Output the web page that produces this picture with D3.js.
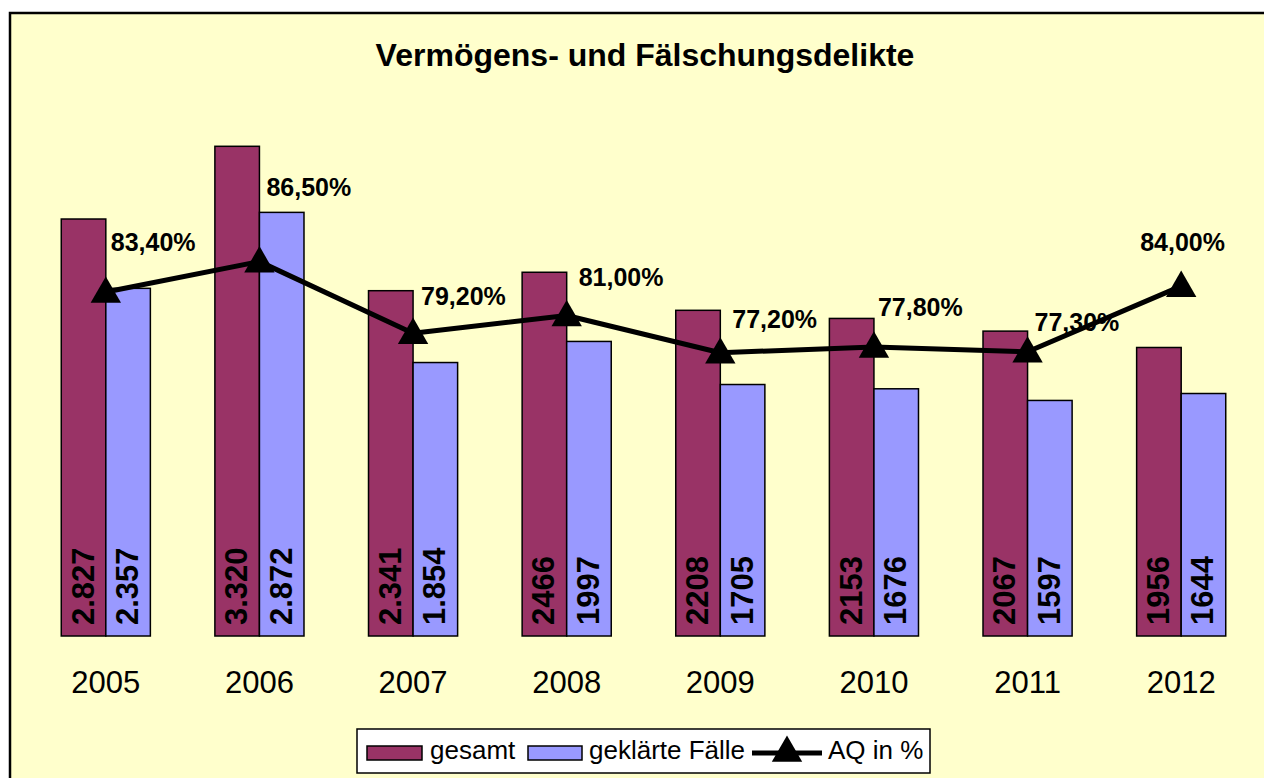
<!DOCTYPE html>
<html>
<head>
<meta charset="utf-8">
<script src="https://cdn.jsdelivr.net/npm/d3@7"></script>
<style>
  html, body { margin: 0; padding: 0; background: #ffffff; }
  svg { display: block; font-family: "Liberation Sans", Arial, sans-serif; }
</style>
</head>
<body>
<svg id="chart" width="1264" height="778"></svg>
<script>
const title = "Vermögens- und Fälschungsdelikte";
const years = ["2005", "2006", "2007", "2008", "2009", "2010", "2011", "2012"];
const gesamt = [2827, 3320, 2341, 2466, 2208, 2153, 2067, 1956];
const geklaert = [2357, 2872, 1854, 1997, 1705, 1676, 1597, 1644];
const gesamtLabels = ["2.827", "3.320", "2.341", "2466", "2208", "2153", "2067", "1956"];
const geklaertLabels = ["2.357", "2.872", "1.854", "1997", "1705", "1676", "1597", "1644"];
const aq = [83.4, 86.5, 79.2, 81.0, 77.2, 77.8, 77.3, 84.0];
const aqLabels = ["83,40%", "86,50%", "79,20%", "81,00%", "77,20%", "77,80%", "77,30%", "84,00%"];
const seriesNames = ["gesamt", "geklärte Fälle", "AQ in %"];

// label placement (manually moved labels in the original)
const aqLabelDx = [5, 7, 8, 12, 12, 4, 7, -41];
const aqLabelDy = [-41, -66, -28, -30, -25, -31, -21, -35];

const colors = { gesamt: "#993366", geklaert: "#9999FF", bg: "#FFFFCC" };
const FONT = '"Liberation Sans", Arial, sans-serif';

const svg = d3.select("#chart");

// chart frame
svg.append("rect")
  .attr("x", 10).attr("y", 13)
  .attr("width", 1280).attr("height", 800)
  .attr("fill", colors.bg)
  .attr("stroke", "#000").attr("stroke-width", 2.5);

// title
svg.append("text")
  .attr("x", 645).attr("y", 66)
  .attr("text-anchor", "middle")
  .attr("font-size", 32).attr("font-weight", "bold")
  .attr("fill", "#000")
  .text(title);

// scales
const x = d3.scaleBand().domain(years).range([29, 1258]).paddingInner(0.42).paddingOuter(0.21);
const xs = d3.scaleBand().domain(["gesamt", "geklaert"]).range([0, x.bandwidth()]);
const y = d3.scaleLinear().domain([0, 4000]).range([636, 46]);
const y2 = d3.scaleLinear().domain([48.3, 108.5]).range([636, 46]);

const rows = years.map((yr, i) => ({
  year: yr, i,
  vals: [
    { key: "gesamt", v: gesamt[i], label: gesamtLabels[i] },
    { key: "geklaert", v: geklaert[i], label: geklaertLabels[i] }
  ]
}));

const groups = svg.append("g").selectAll("g")
  .data(rows).join("g")
  .attr("transform", d => `translate(${x(d.year)},0)`);

groups.selectAll("rect")
  .data(d => d.vals).join("rect")
  .attr("x", d => xs(d.key))
  .attr("y", d => y(d.v))
  .attr("width", xs.bandwidth())
  .attr("height", d => y(0) - y(d.v))
  .attr("fill", d => colors[d.key])
  .attr("stroke", "#000").attr("stroke-width", 1.5);

groups.selectAll("text.val")
  .data(d => d.vals).join("text")
  .attr("class", "val")
  .attr("transform", d => `translate(${xs(d.key) + xs.bandwidth() / 2 + 10},${y(0) - 11}) rotate(-90)`)
  .attr("font-size", 31).attr("font-weight", "bold")
  .attr("fill", "#000")
  .text(d => d.label);

// x axis labels
const xAxis = d3.axisBottom(x).tickSize(0).tickPadding(0);
const gx = svg.append("g").attr("transform", `translate(0,${y(0)})`).call(xAxis);
gx.select(".domain").remove();
gx.selectAll("text")
  .attr("font-family", FONT)
  .attr("font-size", 31)
  .attr("fill", "#000")
  .attr("dy", null)
  .attr("y", 57);

// AQ labels
const cx = d => x(d) + x.bandwidth() / 2;
svg.append("g").selectAll("text")
  .data(years).join("text")
  .attr("x", (d, i) => cx(d) + aqLabelDx[i])
  .attr("y", (d, i) => y2(aq[i]) + aqLabelDy[i])
  .attr("font-size", 25).attr("font-weight", "bold")
  .attr("fill", "#000")
  .text((d, i) => aqLabels[i]);

// AQ line
const line = d3.line().x(d => cx(d)).y((d, i) => y2(aq[i]));
svg.append("path")
  .datum(years)
  .attr("d", line)
  .attr("fill", "none")
  .attr("stroke", "#000").attr("stroke-width", 5)
  .attr("stroke-linejoin", "round");

const tri = d3.symbol().type(d3.symbolTriangle).size(400);
svg.append("g").selectAll("path")
  .data(years).join("path")
  .attr("transform", (d, i) => `translate(${cx(d)},${y2(aq[i]) + 2})`)
  .attr("d", tri)
  .attr("fill", "#000");

// legend
const lg = svg.append("g");
lg.append("rect")
  .attr("x", 357).attr("y", 729).attr("width", 573).attr("height", 44)
  .attr("fill", "#fff").attr("stroke", "#000").attr("stroke-width", 1.5);

lg.append("rect").attr("x", 367).attr("y", 746).attr("width", 55).attr("height", 14)
  .attr("fill", colors.gesamt).attr("stroke", "#000").attr("stroke-width", 1.5);
lg.append("text").attr("x", 430).attr("y", 759).attr("font-size", 26).attr("fill", "#000").text(seriesNames[0]);

lg.append("rect").attr("x", 528).attr("y", 746).attr("width", 54).attr("height", 14)
  .attr("fill", colors.geklaert).attr("stroke", "#000").attr("stroke-width", 1.5);
lg.append("text").attr("x", 589).attr("y", 759).attr("font-size", 26).attr("fill", "#000").text(seriesNames[1]);

lg.append("line").attr("x1", 752).attr("x2", 822).attr("y1", 753).attr("y2", 753)
  .attr("stroke", "#000").attr("stroke-width", 5);
lg.append("path").attr("transform", "translate(787,753)").attr("d", tri).attr("fill", "#000");
lg.append("text").attr("x", 828).attr("y", 759).attr("font-size", 26).attr("fill", "#000").text(seriesNames[2]);
</script>
</body>
</html>
